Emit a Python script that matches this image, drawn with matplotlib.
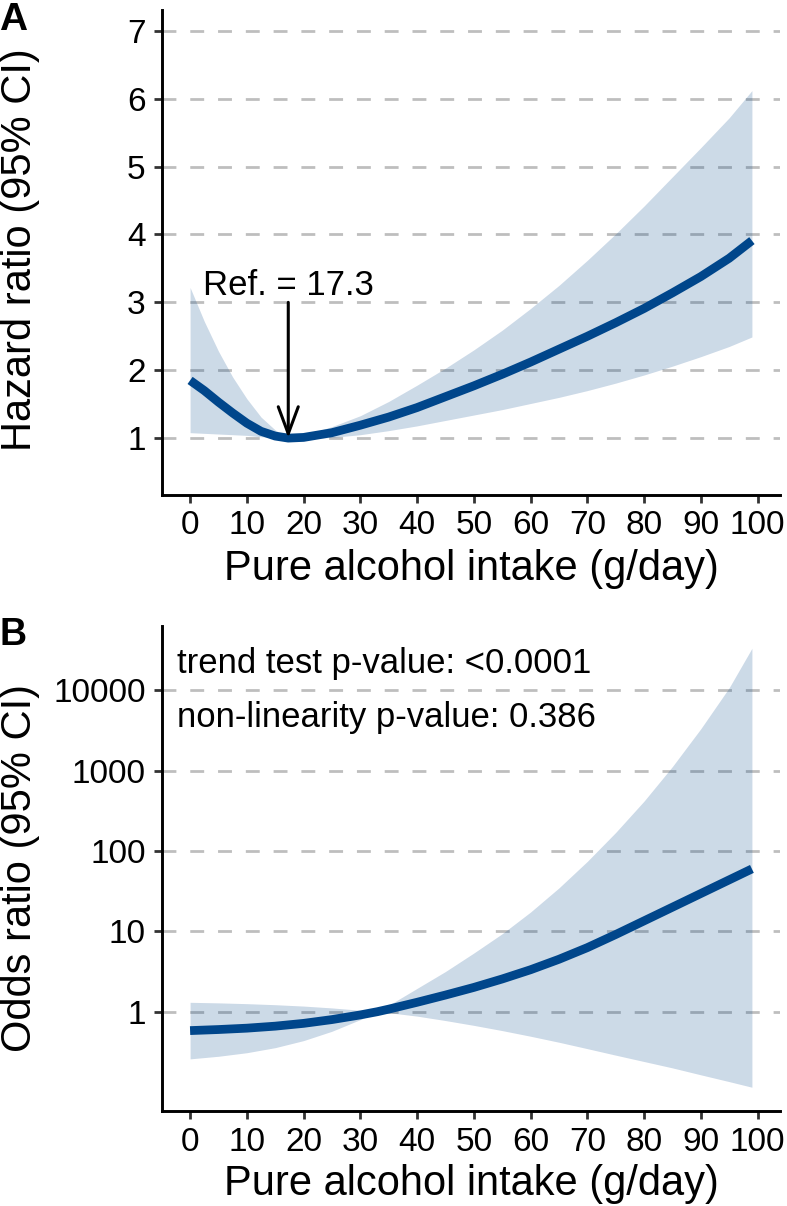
import matplotlib
matplotlib.use("Agg")
import matplotlib.pyplot as plt
import numpy as np

plt.rcParams['font.family'] = ['Liberation Sans', 'DejaVu Sans']

# panel A: hazard ratio vs pure alcohol intake (g/day)
hr_x = [0, 2.5, 5, 7.5, 10, 12.5, 15, 17.3, 20, 25, 30, 35, 40, 45, 50, 55, 60, 65, 70, 75, 80, 85, 90, 95, 99]
hr = [1.85, 1.70, 1.53, 1.37, 1.22, 1.10, 1.03, 1.00, 1.01, 1.08, 1.19, 1.31, 1.45, 1.61, 1.77, 1.94,
      2.12, 2.31, 2.50, 2.70, 2.91, 3.14, 3.38, 3.65, 3.91]
hr_upper = [3.22, 2.72, 2.28, 1.90, 1.58, 1.31, 1.12, 1.00, 1.04, 1.17, 1.33, 1.54, 1.78, 2.03, 2.30, 2.59,
            2.91, 3.25, 3.62, 4.01, 4.42, 4.85, 5.28, 5.72, 6.12]
hr_lower = [1.08, 1.07, 1.06, 1.05, 1.04, 1.02, 1.01, 1.00, 0.99, 1.01, 1.05, 1.11, 1.18, 1.26, 1.34, 1.42,
            1.51, 1.60, 1.70, 1.81, 1.93, 2.06, 2.20, 2.35, 2.49]
ref_value = 17.3

# panel B: odds ratio (log scale)
or_x = [0, 5, 10, 15, 20, 25, 30, 33, 35, 40, 45, 50, 55, 60, 65, 70, 75, 80, 85, 90, 95, 99]
odds = [0.582, 0.600, 0.624, 0.661, 0.716, 0.798, 0.912, 1.0, 1.076, 1.309, 1.611, 2.004, 2.553, 3.327,
        4.487, 6.266, 9.12, 13.49, 19.95, 29.51, 43.65, 59.7]
or_upper = [1.309, 1.288, 1.259, 1.222, 1.175, 1.114, 1.042, 1.0, 1.202, 1.950, 3.162, 5.370, 9.333, 17.38,
            34.67, 74.13, 169.8, 416.9, 1122, 3311, 10720, 33110]
or_lower = [0.259, 0.279, 0.309, 0.357, 0.437, 0.571, 0.798, 1.0, 0.973, 0.881, 0.776, 0.676, 0.582, 0.495,
            0.417, 0.347, 0.288, 0.240, 0.200, 0.164, 0.135, 0.115]

x_ticks = [0, 10, 20, 30, 40, 50, 60, 70, 80, 90, 100]
hr_ticks = [1, 2, 3, 4, 5, 6, 7]
or_ticks = [1, 10, 100, 1000, 10000]
or_ticklabels = ['1', '10', '100', '1000', '10000']

blue = '#00468B'
W, H = 787, 1206
fig = plt.figure(figsize=(W / 100, H / 100), dpi=100)
axA = fig.add_axes([162 / W, (H - 494.5) / H, 618 / W, 485 / H])
axB = fig.add_axes([162 / W, (H - 1111) / H, 618 / W, 485 / H])

for ax in (axA, axB):
    ax.set_axisbelow(True)
    ax.yaxis.grid(True, color='#bebebe', lw=2, linestyle=(0, (5, 5)))
    for s in ('top', 'right'):
        ax.spines[s].set_visible(False)
    for s in ('left', 'bottom'):
        ax.spines[s].set_linewidth(2.1)
        ax.spines[s].set_color('black')
    ax.tick_params(axis='both', length=5.8, width=2, color='#333333', labelsize=24, labelcolor='black')
    ax.tick_params(axis='x', pad=5.5)
    ax.tick_params(axis='y', pad=6)
    ax.set_xlim(-4.95, 103.95)
    ax.set_xticks(x_ticks)

# A
axA.fill_between(hr_x, hr_lower, hr_upper, color=blue, alpha=0.2, lw=0)
axA.plot(hr_x, hr, color=blue, lw=6.3, solid_capstyle='butt')
axA.set_ylim(0.169, 7.315)
axA.set_yticks(hr_ticks)
axA.annotate('', xy=(ref_value, 1.0), xytext=(ref_value, 3.0),
             arrowprops=dict(arrowstyle='->,head_length=0.97,head_width=0.36', lw=2.2,
                             color='black', mutation_scale=20, shrinkA=0, shrinkB=0))
axA.text(ref_value, 3.11, 'Ref. = %.1f' % ref_value, ha='center', va='baseline', fontsize=25)

# B
axB.fill_between(or_x, or_lower, or_upper, color=blue, alpha=0.2, lw=0)
axB.plot(or_x, odds, color=blue, lw=6.3, solid_capstyle='butt')
axB.set_yscale('log')
axB.set_ylim(0.0582, 62700)
axB.set_yticks(or_ticks)
axB.set_yticklabels(or_ticklabels)
axB.yaxis.set_minor_locator(matplotlib.ticker.NullLocator())
axB.text(0.024, (1111 - 673) / 485, 'trend test p-value: <0.0001', transform=axB.transAxes,
         ha='left', va='baseline', fontsize=25)
axB.text(0.024, (1111 - 727) / 485, 'non-linearity p-value: 0.386', transform=axB.transAxes,
         ha='left', va='baseline', fontsize=25)

# titles and panel letters
fig.text(471 / W, 1 - 580 / H, 'Pure alcohol intake (g/day)', ha='center', va='baseline', fontsize=30)
fig.text(471 / W, 1 - 1195 / H, 'Pure alcohol intake (g/day)', ha='center', va='baseline', fontsize=30)
fig.text(20 / W, 1 - 250 / H, 'Hazard ratio (95% CI)', ha='center', va='center', rotation=90, fontsize=30)
fig.text(20 / W, 1 - 868 / H, 'Odds ratio (95% CI)', ha='center', va='center', rotation=90, fontsize=30)
fig.text(-1 / W, 1 - 30 / H, 'A', ha='left', va='baseline', fontsize=28, fontweight='bold')
fig.text(-1 / W, 1 - 645 / H, 'B', ha='left', va='baseline', fontsize=27, fontweight='bold')

fig.savefig('out.png', dpi=100)
